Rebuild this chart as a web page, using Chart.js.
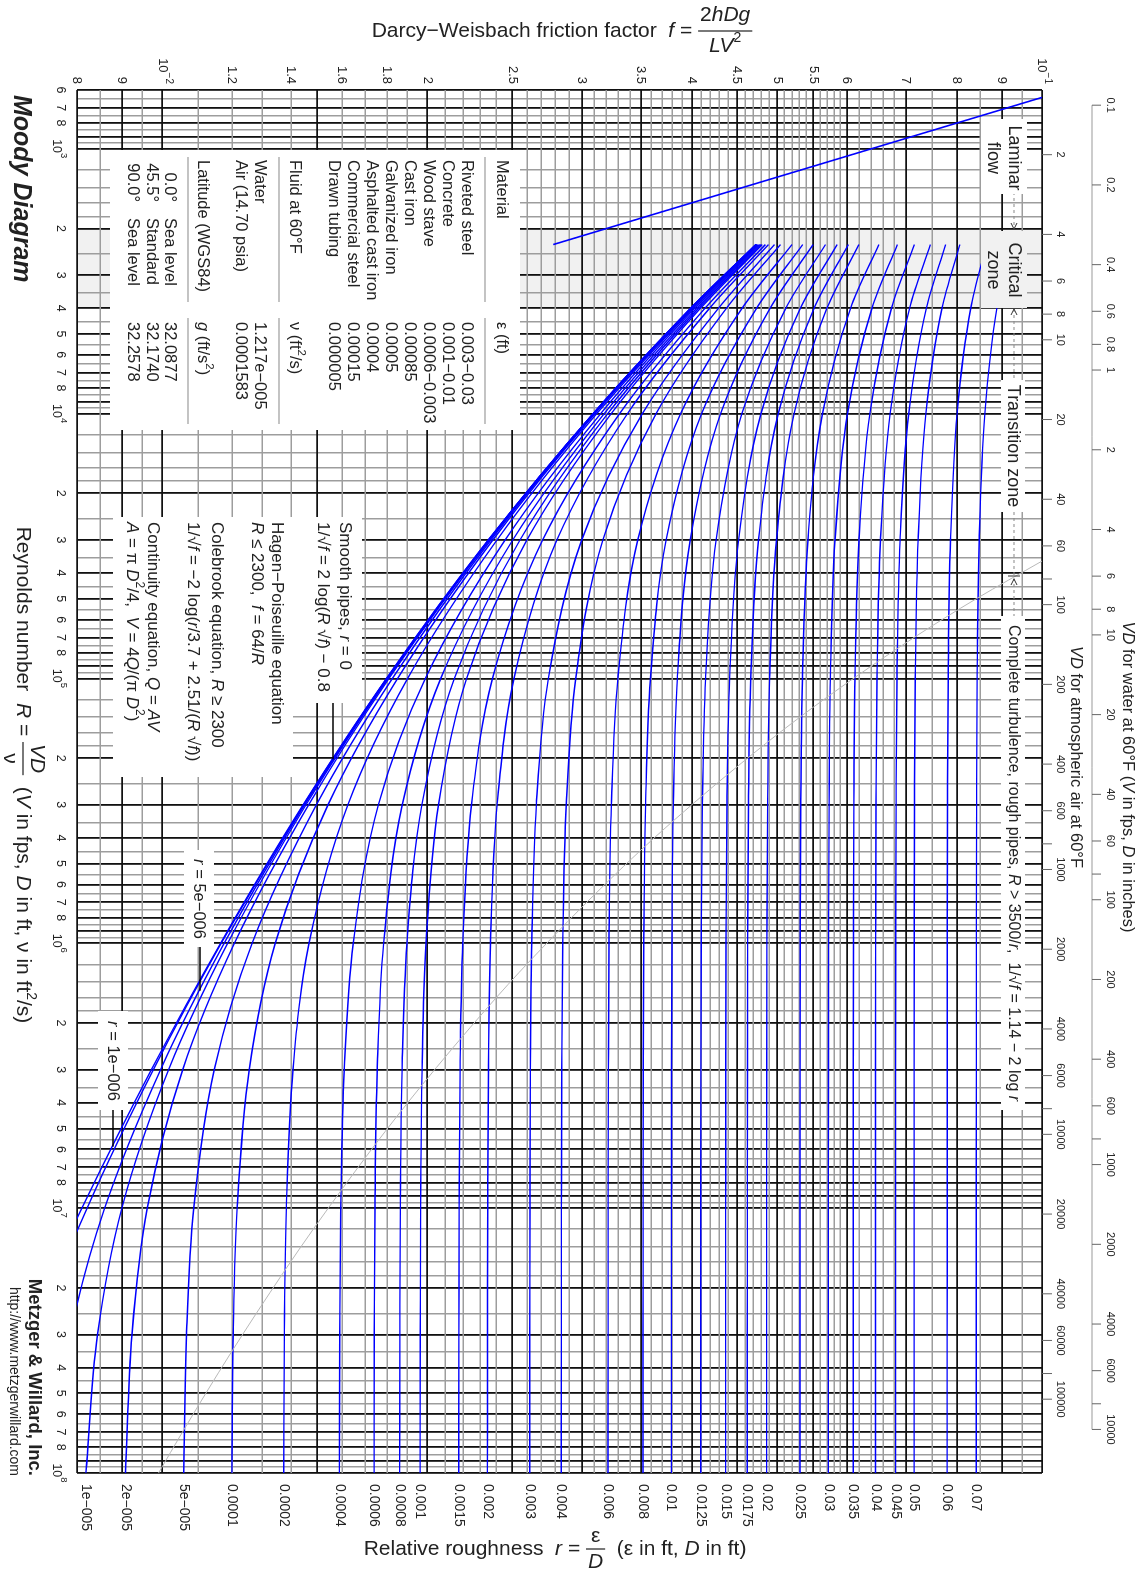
<!DOCTYPE html>
<html>
<head>
<meta charset="utf-8">
<title>Moody Diagram</title>
<script src="https://cdn.jsdelivr.net/npm/chart.js@4.4.1/dist/chart.umd.min.js"></script>
<style>
  html, body { margin: 0; padding: 0; background: #fff; overflow: hidden; }
  #page { position: relative; width: 1145px; height: 1573px; overflow: hidden; }
  /* the diagram is laid out landscape and turned a quarter clockwise */
  #sheet { position: absolute; left: 0; top: 0; width: 1573px; height: 1145px;
           transform-origin: 0 0; transform: translate(1145px, 0) rotate(90deg); }
</style>
</head>
<body>
<div id="page"><div id="sheet"><canvas id="moody" width="1573" height="1145"></canvas></div></div>
<script>
const F = '"Liberation Sans", Arial, Helvetica, sans-serif';

// Reynolds numbers at which each roughness curve is tabulated
const reynoldsSamples = [2300, 4000, 1e4, 3e4, 1e5, 3e5, 1e6, 3e6, 1e7, 3e7, 1e8];

// relative roughness of each curve, 0 = smooth pipe
const roughness = [0, 1e-6, 5e-6, 1e-5, 2e-5, 5e-5, 1e-4, 2e-4, 4e-4, 6e-4, 8e-4, 1e-3, 1.5e-3, 2e-3,
  3e-3, 4e-3, 6e-3, 8e-3, 0.01, 0.0125, 0.015, 0.0175, 0.02, 0.025, 0.03, 0.035, 0.04, 0.045, 0.05, 0.06, 0.07];

// text printed where each curve leaves the chart
const roughnessText = [null, null, null, '1e\u2212005', '2e\u2212005', '5e\u2212005', '0.0001', '0.0002', '0.0004',
  '0.0006', '0.0008', '0.001', '0.0015', '0.002', '0.003', '0.004', '0.006', '0.008', '0.01', '0.0125', '0.015',
  '0.0175', '0.02', '0.025', '0.03', '0.035', '0.04', '0.045', '0.05', '0.06', '0.07'];

// friction factor f for each roughness at reynoldsSamples
const frictionCurves = [
  [0.0473, 0.03989, 0.03089, 0.02348, 0.01799, 0.01446, 0.011647, 0.009722, 0.008104, 0.006948, 0.00594],
  [0.0473, 0.03989, 0.03089, 0.02348, 0.01799, 0.014476, 0.011668, 0.009769, 0.008213, 0.007181, 0.00643],
  [0.0473, 0.03989, 0.0309, 0.0235, 0.018017, 0.014516, 0.01176, 0.009955, 0.0086, 0.007862, 0.00747],
  [0.0473, 0.0399, 0.0309, 0.023514, 0.018047, 0.014568, 0.011869, 0.010168, 0.008996, 0.008441, 0.008188],
  [0.04732, 0.03992, 0.03092, 0.023545, 0.018101, 0.014671, 0.012081, 0.01055, 0.009616, 0.009237, 0.009082],
  [0.04734, 0.03995, 0.03097, 0.023631, 0.018261, 0.014969, 0.01265, 0.011458, 0.01086, 0.010655, 0.010578],
  [0.04738, 0.04001, 0.031034, 0.023755, 0.018513, 0.015431, 0.013442, 0.012555, 0.012166, 0.012043, 0.011999],
  [0.04747, 0.04013, 0.031187, 0.024016, 0.019006, 0.016254, 0.014684, 0.014078, 0.013839, 0.013766, 0.013741],
  [0.0476, 0.04031, 0.031502, 0.024532, 0.01991, 0.017604, 0.016485, 0.016101, 0.015957, 0.015914, 0.015899],
  [0.04776, 0.04052, 0.031796, 0.025027, 0.020728, 0.018744, 0.017848, 0.017557, 0.01745, 0.01742, 0.017409],
  [0.04793, 0.04071, 0.032094, 0.025506, 0.021477, 0.019729, 0.018973, 0.018734, 0.018648, 0.018623, 0.018615],
  [0.04809, 0.04091, 0.032385, 0.025973, 0.022176, 0.020603, 0.019943, 0.01974, 0.019667, 0.019646, 0.019639],
  [0.04848, 0.0414, 0.033103, 0.027069, 0.023738, 0.022464, 0.021956, 0.021804, 0.02175, 0.021736, 0.021729],
  [0.04889, 0.0419, 0.033794, 0.028097, 0.025111, 0.024025, 0.023607, 0.023484, 0.02344, 0.023426, 0.023421],
  [0.04966, 0.04288, 0.035139, 0.029981, 0.027476, 0.026623, 0.026305, 0.026211, 0.026179, 0.02617, 0.026166],
  [0.05044, 0.04379, 0.036419, 0.031683, 0.029508, 0.028792, 0.028529, 0.028453, 0.028427, 0.02842, 0.028417],
  [0.05197, 0.04561, 0.038831, 0.034713, 0.032951, 0.0324, 0.032201, 0.032145, 0.032125, 0.032119, 0.032116],
  [0.05347, 0.04738, 0.041031, 0.037391, 0.03589, 0.035433, 0.035267, 0.03522, 0.035204, 0.035199, 0.035197],
  [0.05494, 0.04908, 0.043123, 0.039826, 0.038505, 0.038107, 0.037964, 0.037924, 0.03791, 0.037905, 0.037903],
  [0.05674, 0.05114, 0.045593, 0.042618, 0.041456, 0.04111, 0.040987, 0.040952, 0.04094, 0.040937, 0.040935],
  [0.0585, 0.05314, 0.047925, 0.045196, 0.044154, 0.043846, 0.043736, 0.043705, 0.043695, 0.043692, 0.04369],
  [0.06023, 0.05507, 0.050146, 0.047614, 0.046663, 0.046384, 0.046284, 0.046255, 0.046246, 0.046242, 0.046241],
  [0.06193, 0.05696, 0.052271, 0.049907, 0.049025, 0.048768, 0.048677, 0.048651, 0.048643, 0.048639, 0.048637],
  [0.06524, 0.06059, 0.056297, 0.054192, 0.053419, 0.053192, 0.053113, 0.05309, 0.053082, 0.053079, 0.053078],
  [0.06847, 0.06408, 0.0601, 0.058177, 0.057478, 0.057276, 0.057204, 0.057183, 0.057177, 0.057175, 0.057174],
  [0.07161, 0.06744, 0.063722, 0.061942, 0.061297, 0.06111, 0.061047, 0.061028, 0.061023, 0.06102, 0.061019],
  [0.07468, 0.07071, 0.067196, 0.065528, 0.064932, 0.064759, 0.064699, 0.06468, 0.064675, 0.064672, 0.064671],
  [0.07769, 0.07388, 0.07055, 0.06898, 0.068418, 0.068254, 0.068197, 0.068181, 0.068176, 0.068174, 0.068173],
  [0.08065, 0.07698, 0.073796, 0.072313, 0.071779, 0.071625, 0.071572, 0.071557, 0.071553, 0.071551, 0.07155],
  [0.08645, 0.083, 0.080073, 0.078714, 0.078229, 0.078089, 0.078039, 0.078027, 0.078023, 0.078021, 0.07802],
  [0.0921, 0.08886, 0.08611, 0.084846, 0.084392, 0.084265, 0.084221, 0.084209, 0.084205, 0.084203, 0.084202]
];

// laminar flow, f = 64/R
const laminarRe = [640, 2300];
const laminarF = [0.1, 0.027826];

// start of complete turbulence, R = 3500/r
const roughBoundaryRe = [36046, 50000, 70000, 116667, 175000, 350000, 583333, 1166667, 1750000, 3500000,
  5833333, 11666667, 17500000, 35000000, 70000000, 100000000];
const roughBoundaryF = [0.1, 0.084202, 0.07155, 0.057174, 0.048637, 0.037903, 0.032116, 0.026165, 0.02342,
  0.019636, 0.017404, 0.014937, 0.01373, 0.01198, 0.010544, 0.009904];

const criticalZone = [2000, 4000];

// axis ticks
const reynoldsTicks = [600, 700, 800, 1e3, 2e3, 3e3, 4e3, 5e3, 6e3, 7e3, 8e3, 1e4, 2e4, 3e4, 4e4, 5e4, 6e4, 7e4, 8e4,
  1e5, 2e5, 3e5, 4e5, 5e5, 6e5, 7e5, 8e5, 1e6, 2e6, 3e6, 4e6, 5e6, 6e6, 7e6, 8e6, 1e7, 2e7, 3e7, 4e7, 5e7, 6e7,
  7e7, 8e7, 1e8];
const frictionTicks = [0.008, 0.009, 0.01, 0.012, 0.014, 0.016, 0.018, 0.02, 0.025, 0.03, 0.035, 0.04, 0.045,
  0.05, 0.055, 0.06, 0.07, 0.08, 0.09, 0.1];
const frictionTickText = ['8', '9', '10^\u22122', '1.2', '1.4', '1.6', '1.8', '2', '2.5', '3', '3.5', '4', '4.5',
  '5', '5.5', '6', '7', '8', '9', '10^\u22121'];

const fGridDark = [0.008, 0.009, 0.01, 0.015, 0.02, 0.025, 0.03, 0.035, 0.04, 0.045, 0.05, 0.055, 0.06, 0.07,
  0.08, 0.09, 0.1];
const fGridLight = [0.0085, 0.0095, 0.011, 0.012, 0.013, 0.014, 0.016, 0.017, 0.018, 0.019, 0.021, 0.022, 0.023,
  0.024, 0.026, 0.027, 0.028, 0.029, 0.031, 0.032, 0.033, 0.034, 0.036, 0.037, 0.038, 0.039, 0.041, 0.042, 0.043,
  0.044, 0.046, 0.047, 0.048, 0.049, 0.051, 0.052, 0.053, 0.054, 0.056, 0.057, 0.058, 0.059, 0.062, 0.064, 0.066,
  0.068, 0.075, 0.085, 0.095];
const reGridDark = [1, 2, 3, 4, 5, 6, 7, 8, 9];
const reGridLight = [1.2, 1.4, 1.6, 1.8, 2.5, 3.5, 4.5, 5.5, 6.5, 7.5, 8.5, 9.5];

// VD scales: R per unit VD for water and air at 60 F
const waterFactor = 6847.4;
const airFactor = 526.43;
const waterVD = [0.1, 0.2, 0.4, 0.6, 0.8, 1, 2, 4, 6, 8, 10, 20, 40, 60, 80, 100, 200, 400, 600, 800, 1000,
  2000, 4000, 6000, 8000, 10000];
const airVD = [2, 4, 6, 8, 10, 20, 40, 60, 80, 100, 200, 400, 600, 800, 1000, 2000, 4000, 6000, 8000, 10000,
  20000, 40000, 60000, 80000, 100000];
const vdUnlabelled = [80, 800, 8000, 80000];

// reference tables
const materials = ['Riveted steel', 'Concrete', 'Wood stave', 'Cast iron', 'Galvanized iron',
  'Asphalted cast iron', 'Commercial steel', 'Drawn tubing'];
const materialEps = ['0.003\u22120.03', '0.001\u22120.01', '0.0006\u22120.003', '0.00085', '0.0005', '0.0004',
  '0.00015', '0.000005'];
const fluids = ['Water', 'Air (14.70 psia)'];
const fluidNu = ['1.217e\u2212005', '0.0001583'];
const latitudes = ['0.0\u00b0', '45.5\u00b0', '90.0\u00b0'];
const latitudeName = ['Sea level', 'Standard', 'Sea level'];
const gravity = ['32.0877', '32.1740', '32.2578'];

const N = s => s + 'px ' + F;
const I = s => 'italic ' + s + 'px ' + F;

function partsWidth(ctx, parts) {
  let w = 0;
  for (const p of parts) { ctx.font = p[1]; w += ctx.measureText(p[0]).width; }
  return w;
}

function runs(ctx, x, y, parts, align) {
  const w = partsWidth(ctx, parts);
  let cx = align === 'center' ? x - w / 2 : align === 'right' ? x - w : x;
  for (const p of parts) {
    ctx.font = p[1];
    ctx.fillText(p[0], cx, y + (p[2] || 0));
    cx += ctx.measureText(p[0]).width;
  }
  return w;
}

// one line of text with a stacked fraction in the middle
function fractionLine(ctx, x, y, gap, before, num, den, after) {
  const wb = partsWidth(ctx, before), wn = partsWidth(ctx, num), wd = partsWidth(ctx, den), wa = partsWidth(ctx, after);
  const wf = Math.max(wn, wd) + 4;
  let cx = x - (wb + wf + wa) / 2;
  runs(ctx, cx, y, before, 'left');
  cx += wb;
  runs(ctx, cx + (wf - wn) / 2, y - gap, num, 'left');
  runs(ctx, cx + (wf - wd) / 2, y + gap, den, 'left');
  ctx.fillRect(cx, y - 0.6, wf, 1.2);
  cx += wf;
  runs(ctx, cx, y, after, 'left');
}

function box(ctx, x0, y0, x1, y1, fill) {
  ctx.fillStyle = fill || '#fff';
  ctx.fillRect(x0, y0, x1 - x0, y1 - y0);
}

function powerLabel(text, size) {
  const k = text.indexOf('^');
  if (k < 0) return [[text, N(size)]];
  return [[text.slice(0, k), N(size)], [text.slice(k + 1), N(size - 3), -6]];
}

const decor = {
  id: 'decor',
  beforeDraw(chart) {
    const { ctx, chartArea: a, scales: { x } } = chart;
    ctx.save();
    ctx.fillStyle = '#fff';
    ctx.fillRect(0, 0, chart.width, chart.height);
    const x0 = x.getPixelForValue(criticalZone[0]), x1 = x.getPixelForValue(criticalZone[1]);
    ctx.fillStyle = '#f1f1f1';
    ctx.fillRect(x0, a.top, x1 - x0, a.bottom - a.top);
    ctx.restore();
  },
  afterDatasetsDraw(chart) {
    const { ctx, chartArea: a, scales: { x, y } } = chart;
    const X = v => x.getPixelForValue(v);
    const Y = v => y.getPixelForValue(v);
    ctx.save();
    ctx.textBaseline = 'middle';
    ctx.textAlign = 'left';

    // friction factor ticks (left)
    ctx.fillStyle = '#222';
    frictionTicks.forEach((v, i) => runs(ctx, 84, Y(v), powerLabel(frictionTickText[i], 13), 'right'));

    // Reynolds ticks (bottom)
    reynoldsTicks.forEach(v => {
      const e = Math.round(Math.log10(v));
      if (Math.abs(v - Math.pow(10, e)) < 1e-6 * v) {
        runs(ctx, X(v), 1089, [['10', N(12.5)], [String(e), N(9.5), -8]], 'center');
      } else {
        runs(ctx, X(v), 1085, [[String(Math.round(v / Math.pow(10, Math.floor(Math.log10(v))))), N(12.5)]], 'center');
      }
    });

    // roughness values at the curve ends (right)
    frictionCurves.forEach((row, i) => {
      if (roughnessText[i]) runs(ctx, 1484, Y(row[row.length - 1]), [[roughnessText[i], N(14)]], 'left');
    });

    // VD scale for air, on the chart edge
    ctx.strokeStyle = '#666';
    ctx.lineWidth = 1;
    airVD.forEach(v => {
      const px = X(v * airFactor);
      ctx.beginPath(); ctx.moveTo(px, a.top); ctx.lineTo(px, a.top - 10); ctx.stroke();
      if (!vdUnlabelled.includes(v)) runs(ctx, px, 85, [[String(v), N(11)]], 'center');
    });
    // VD scale for water, on its own line
    ctx.strokeStyle = '#999';
    ctx.beginPath();
    ctx.moveTo(X(waterVD[0] * waterFactor), 53);
    ctx.lineTo(X(waterVD[waterVD.length - 1] * waterFactor), 53);
    ctx.stroke();
    ctx.strokeStyle = '#666';
    waterVD.forEach(v => {
      const px = X(v * waterFactor);
      ctx.beginPath(); ctx.moveTo(px, 53); ctx.lineTo(px, 44); ctx.stroke();
      if (!vdUnlabelled.includes(v)) runs(ctx, px, 35, [[String(v), N(11)]], 'center');
    });
    ctx.fillStyle = '#222';
    runs(ctx, 757, 69, [['VD', I(16.5)], [' for atmospheric air at 60\u00b0F', N(16.5)]], 'center');
    runs(ctx, 777, 17, [['VD', I(16.5)], [' for water at 60\u00b0F (', N(16.5)], ['V', I(16.5)],
      [' in fps, ', N(16.5)], ['D', I(16.5)], [' in inches)', N(16.5)]], 'center');

    // axis titles
    const T = 21;
    ctx.save();
    ctx.translate(31, 583);
    ctx.rotate(-Math.PI / 2);
    fractionLine(ctx, 0, 0, 15.5,
      [['Darcy\u2212Weisbach friction factor  ', N(T)], ['f', I(T)], [' = ', N(T)]],
      [['2', N(T)], ['hDg', I(T)]],
      [['LV', I(T)], ['2', N(14), -8]], []);
    ctx.restore();

    ctx.save();
    ctx.translate(1549, 590);
    ctx.rotate(-Math.PI / 2);
    fractionLine(ctx, 0, 0, 13,
      [['Relative roughness  ', N(T)], ['r', I(T)], [' = ', N(T)]],
      [['\u03b5', N(T)]], [['D', I(T)]],
      [['  (\u03b5 in ft, ', N(T)], ['D', I(T)], [' in ft)', N(T)]]);
    ctx.restore();

    fractionLine(ctx, 775, 1122, 13.5,
      [['Reynolds number  ', N(T)], ['R', I(T)], [' = ', N(T)]],
      [['VD', I(T)]], [['\u03bd', N(T)]],
      [['  (', N(T)], ['V', I(T)], [' in fps, ', N(T)], ['D', I(T)], [' in ft, \u03bd in ft', N(T)],
       ['2', N(14), -8], ['/s)', N(T)]]);

    ctx.font = 'bold italic 25px ' + F;
    ctx.fillText('Moody Diagram', 95, 1124);
    ctx.textAlign = 'right';
    ctx.font = 'bold 18.5px ' + F;
    ctx.fillText('Metzger & Willard, Inc.', 1476, 1111);
    ctx.font = N(14);
    ctx.fillText('http://www.metzgerwillard.com', 1476, 1131);
    ctx.textAlign = 'left';

    // property tables
    box(ctx, 150, 625, 430, 1035);
    ctx.fillStyle = '#222';
    const t = N(16.5), ti = I(16.5), ts = N(11.5);
    runs(ctx, 160, 643, [['Material', t]]);
    runs(ctx, 322, 643, [['\u03b5 (ft)', t]]);
    materials.forEach((m, i) => {
      runs(ctx, 160, 678 + i * 19, [[m, t]]);
      runs(ctx, 322, 678 + i * 19, [[materialEps[i], t]]);
    });
    runs(ctx, 160, 850, [['Fluid at 60\u00b0F', t]]);
    runs(ctx, 322, 850, [['\u03bd (ft', t], ['2', ts, -6], ['/s)', t]]);
    fluids.forEach((m, i) => {
      runs(ctx, 160, 885 + i * 19, [[m, t]]);
      runs(ctx, 322, 885 + i * 19, [[fluidNu[i], t]]);
    });
    runs(ctx, 160, 942, [['Latitude (WGS84)', t]]);
    runs(ctx, 322, 942, [['g', ti], [' (ft/s', t], ['2', ts, -6], [')', t]]);
    latitudes.forEach((m, i) => {
      runs(ctx, 202, 975 + i * 18.5, [[m, t]], 'right');
      runs(ctx, 218, 975 + i * 18.5, [[latitudeName[i], t]]);
      runs(ctx, 322, 975 + i * 18.5, [[gravity[i], t]]);
    });
    ctx.strokeStyle = '#888';
    ctx.lineWidth = 1;
    [660, 866, 957].forEach(ly => {
      ctx.beginPath();
      ctx.moveTo(157, ly); ctx.lineTo(302, ly);
      ctx.moveTo(318, ly); ctx.lineTo(424, ly);
      ctx.stroke();
    });

    // equations
    box(ctx, 517, 783, 703, 1032);
    box(ctx, 703, 852, 777, 1032);
    ctx.fillStyle = '#222';
    const e = N(17), ei = I(17), es = N(12);
    runs(ctx, 522, 800, [['Smooth pipes, ', e], ['r', ei], [' = 0', e]]);
    runs(ctx, 522, 822, [['1/\u221a', e], ['f', ei], [' = 2 log(', e], ['R', ei], [' \u221a', e], ['f', ei], [') \u2212 0.8', e]]);
    runs(ctx, 522, 868, [['Hagen\u2212Poiseuille equation', e]]);
    runs(ctx, 522, 888, [['R', ei], [' \u2264 2300,  ', e], ['f', ei], [' = 64/', e], ['R', ei]]);
    runs(ctx, 522, 928, [['Colebrook equation, ', e], ['R', ei], [' \u2265 2300', e]]);
    runs(ctx, 522, 952, [['1/\u221a', e], ['f', ei], [' = \u22122 log(', e], ['r', ei], ['/3.7 + 2.51/(', e],
      ['R', ei], [' \u221a', e], ['f', ei], ['))', e]]);
    runs(ctx, 522, 992, [['Continuity equation, ', e], ['Q', ei], [' = ', e], ['AV', ei]]);
    runs(ctx, 522, 1013, [['A', ei], [' = \u03c0 ', e], ['D', ei], ['2', es, -7], ['/4,  ', e], ['V', ei],
      [' = 4', e], ['Q', ei], ['/(\u03c0 ', e], ['D', ei], ['2', es, -7], [')', e]]);

    // leaders to labelled curves
    ctx.strokeStyle = '#000';
    ctx.lineWidth = 1.5;
    const lead = (x0, re, f) => {
      ctx.beginPath(); ctx.moveTo(x0, Y(f)); ctx.lineTo(X(re), Y(f)); ctx.stroke();
    };
    lead(703, 2.02e5, 0.01563);
    box(ctx, 850, 931, 947, 961);
    box(ctx, 1011, 1017, 1110, 1047);
    ctx.fillStyle = '#222';
    runs(ctx, 899, 946, [['r', I(16.5)], [' = 5e\u2212006', N(16.5)]], 'center');
    runs(ctx, 1061, 1032, [['r', I(16.5)], [' = 1e\u2212006', N(16.5)]], 'center');
    lead(947, 1.51e6, 0.01104);
    lead(1110, 5.86e6, 0.00879);

    // flow regime strip along the top
    ctx.strokeStyle = '#888';
    ctx.lineWidth = 1;
    ctx.setLineDash([3, 3]);
    ctx.beginPath();
    ctx.moveTo(192, 131); ctx.lineTo(229, 131);
    ctx.moveTo(309, 131); ctx.lineTo(380, 131);
    ctx.moveTo(512, 131); ctx.lineTo(616, 131);
    ctx.stroke();
    ctx.setLineDash([]);
    ctx.strokeStyle = '#333';
    ctx.beginPath();
    ctx.moveTo(229, 131); ctx.lineTo(223, 128); ctx.moveTo(229, 131); ctx.lineTo(223, 134);
    ctx.moveTo(309, 131); ctx.lineTo(315, 128); ctx.moveTo(309, 131); ctx.lineTo(315, 134);
    ctx.moveTo(576, 125); ctx.lineTo(576, 137);
    ctx.moveTo(579, 131); ctx.lineTo(585, 128); ctx.moveTo(579, 131); ctx.lineTo(585, 134);
    ctx.stroke();
    box(ctx, 119, 118, 194, 164);
    box(ctx, 231, 118, 308, 164, '#f1f1f1');
    box(ctx, 380, 120, 512, 144);
    box(ctx, 616, 120, 1110, 144);
    ctx.fillStyle = '#222';
    runs(ctx, 158, 131, [['Laminar', N(18)]], 'center');
    runs(ctx, 158, 152, [['flow', N(18)]], 'center');
    runs(ctx, 270, 131, [['Critical', N(18)]], 'center');
    runs(ctx, 270, 152, [['zone', N(18)]], 'center');
    runs(ctx, 446, 132, [['Transition zone', N(18)]], 'center');
    runs(ctx, 863, 132, [['Complete turbulence, rough pipes, ', N(16)], ['R', I(16)], [' > 3500/', N(16)],
      ['r', I(16)], [',  1/\u221a', N(16)], ['f', I(16)], [' = 1.14 \u2212 2 log ', N(16)], ['r', I(16)]], 'center');
    ctx.restore();
  }
};

function gridTicks(dark, light) {
  return light.map(v => ({ value: v, dark: false })).concat(dark.map(v => ({ value: v, dark: true })));
}

const reDark = [], reLight = [];
for (let e = 2; e <= 8; e++) {
  const p = Math.pow(10, e);
  reGridDark.forEach(m => { const v = m * p; if (v >= 599.9 && v <= 1.0001e8) reDark.push(v); });
  reGridLight.forEach(m => { const v = m * p; if (v >= 599.9 && v <= 1.0001e8) reLight.push(v); });
}

const gridStyle = {
  color: c => (c.tick && c.tick.dark ? '#111' : '#9d9d9d'),
  lineWidth: c => (c.tick && c.tick.dark ? 1.8 : 1.5),
  drawTicks: false
};

const datasets = [];
datasets.push({
  data: roughBoundaryRe.map((v, i) => ({ x: v, y: roughBoundaryF[i] })),
  borderColor: '#b9b9b9', borderWidth: 1, cubicInterpolationMode: 'monotone'
});
frictionCurves.forEach(row => datasets.push({
  data: reynoldsSamples.map((v, i) => ({ x: v, y: row[i] })),
  borderColor: '#0000ff', borderWidth: 1.4, cubicInterpolationMode: 'monotone'
}));
datasets.push({
  data: laminarRe.map((v, i) => ({ x: v, y: laminarF[i] })),
  borderColor: '#0000ff', borderWidth: 1.6
});

new Chart(document.getElementById('moody'), {
  type: 'line',
  data: { datasets },
  options: {
    responsive: false,
    animation: false,
    devicePixelRatio: 1,
    layout: { padding: { left: 90, top: 103, right: 100, bottom: 77 } },
    elements: { point: { radius: 0 } },
    plugins: { legend: { display: false }, tooltip: { enabled: false } },
    scales: {
      x: {
        type: 'logarithmic', min: 600, max: 1e8,
        border: { display: false },
        grid: gridStyle,
        ticks: { display: false },
        afterBuildTicks: s => { s.ticks = gridTicks(reDark, reLight); }
      },
      y: {
        type: 'logarithmic', min: 0.008, max: 0.1,
        border: { display: false },
        grid: gridStyle,
        ticks: { display: false },
        afterBuildTicks: s => { s.ticks = gridTicks(fGridDark, fGridLight); }
      }
    }
  },
  plugins: [decor]
});
</script>
</body>
</html>
